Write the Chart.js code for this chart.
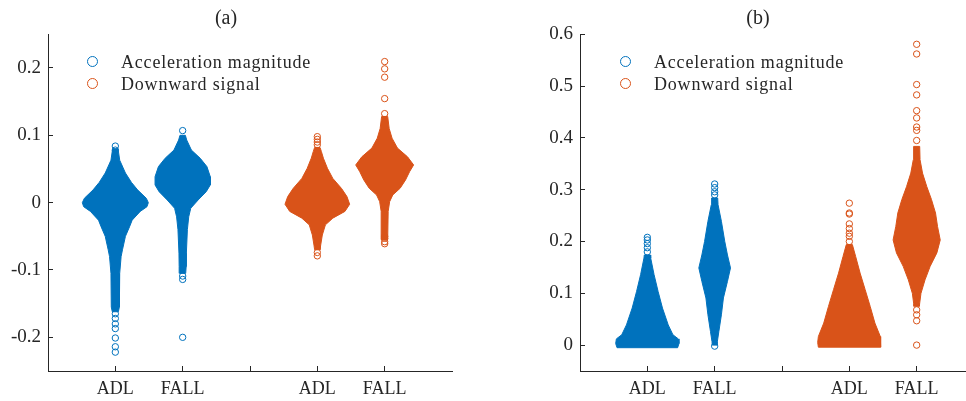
<!DOCTYPE html>
<html lang="en">
<head>
<meta charset="UTF-8">
<title>ADL vs FALL swarm</title>
<script src="https://cdn.jsdelivr.net/npm/chart.js"></script>
<style>
    body { margin: 0; width: 966px; height: 401px; overflow: hidden; background: #fff; position: relative; }
    canvas { position: absolute; top: 0; }
    #chartA { left: 0; }
    #chartB { left: 532px; }
    .legend { position: absolute; font-family: 'Liberation Serif', serif; font-size: 18px; letter-spacing: 0.8px; color: #262626; }
    .legend div { position: relative; height: 22px; line-height: 22px; white-space: nowrap; }
    .legend span.mk { position: absolute; left: -34px; top: 5px; width: 9px; height: 9px; border-radius: 50%; border: 1.2px solid; }
</style>
</head>
<body>
<canvas id="chartA" width="500" height="401"></canvas>
<canvas id="chartB" width="500" height="401"></canvas>

<div class="legend" style="left:121px; top:51px;">
    <div><span class="mk" style="border-color:#0072BD"></span>Acceleration magnitude</div>
    <div><span class="mk" style="border-color:#D95319"></span>Downward signal</div>
</div>
<div class="legend" style="left:654px; top:51px;">
    <div><span class="mk" style="border-color:#0072BD"></span>Acceleration magnitude</div>
    <div><span class="mk" style="border-color:#D95319"></span>Downward signal</div>
</div>

<script>
    // x categories (positions 1..5, slot 3 is the empty gap)
    const tickPos = [1, 2, 3, 4, 5];
    const tickNames = ['ADL', 'FALL', '', 'ADL', 'FALL'];

    const yTicksA = [-0.2, -0.1, 0, 0.1, 0.2];
    const yNamesA = ['-0.2', '-0.1', '0', '0.1', '0.2'];
    const yTicksB = [0, 0.1, 0.2, 0.3, 0.4, 0.5, 0.6];
    const yNamesB = ['0', '0.1', '0.2', '0.3', '0.4', '0.5', '0.6'];

    const blue = '#0072BD';
    const orange = '#D95319';

    // (a) swarm outlines: value levels and half widths (x units), plus single points
    const aAdlAccY = [0.080, 0.063, 0.044, 0.030, 0.019, 0.0065, 0, -0.006, -0.013, -0.026, -0.036, -0.05, -0.07, -0.08, -0.105, -0.155, -0.162];
    const aAdlAccW = [0.04, 0.065, 0.15, 0.24, 0.33, 0.46, 0.49, 0.47, 0.37, 0.25, 0.21, 0.15, 0.106, 0.086, 0.065, 0.06, 0.045];
    const aAdlAccOut = [0.084, 0.078, -0.165, -0.172, -0.18, -0.187, -0.201, -0.214, -0.222];

    const aFallAccY = [0.1, 0.093, 0.078, 0.066, 0.0535, 0.0386, 0.0263, 0.0163, 0.004, -0.0083, -0.021, -0.04, -0.075, -0.095, -0.105];
    const aFallAccW = [0.04, 0.06, 0.13, 0.26, 0.36, 0.41, 0.41, 0.35, 0.23, 0.12, 0.09, 0.07, 0.055, 0.052, 0.045];
    const aFallAccOut = [0.107, -0.109, -0.114, -0.2];

    const aAdlDownY = [0.082, 0.076, 0.066, 0.051, 0.036, 0.021, 0.009, -0.0024, -0.013, -0.023, -0.033, -0.048, -0.063, -0.07];
    const aAdlDownW = [0.04, 0.06, 0.09, 0.15, 0.23, 0.36, 0.44, 0.48, 0.41, 0.23, 0.12, 0.074, 0.05, 0.04];
    const aAdlDownOut = [0.098, 0.094, 0.09, 0.086, -0.074, -0.079];

    const aFallDownY = [0.128, 0.11, 0.0957, 0.081, 0.068, 0.056, 0.046, 0.0337, 0.0214, 0.0114, 0.0015, -0.013, -0.055];
    const aFallDownW = [0.045, 0.067, 0.11, 0.19, 0.34, 0.43, 0.37, 0.31, 0.23, 0.12, 0.074, 0.052, 0.045];
    const aFallDownOut = [0.2095, 0.1987, 0.1863, 0.1545, 0.1322, -0.05, -0.053, -0.058, -0.061];

    // (b)
    const bAdlAccY = [0.174, 0.168, 0.136, 0.1035, 0.0715, 0.039, 0.02, 0.012, 0.003, -0.005];
    const bAdlAccW = [0.045, 0.05, 0.1, 0.16, 0.225, 0.31, 0.38, 0.46, 0.47, 0.45];
    const bAdlAccOut = [0.208, 0.203, 0.196, 0.188, 0.18];

    const bFallAccY = [0.284, 0.271, 0.239, 0.2, 0.174, 0.149, 0.123, 0.091, 0.0585, 0.026, 0.007, 0.0];
    const bFallAccW = [0.045, 0.05, 0.1, 0.15, 0.19, 0.235, 0.19, 0.13, 0.1, 0.062, 0.04, 0.035];
    const bFallAccOut = [0.311, 0.304, 0.296, 0.29, -0.002];

    const bAdlDownY = [0.194, 0.171, 0.139, 0.107, 0.0746, 0.0425, 0.0166, 0.005, -0.004];
    const bAdlDownW = [0.045, 0.094, 0.16, 0.235, 0.31, 0.38, 0.46, 0.47, 0.46];
    const bAdlDownOut = [0.274, 0.255, 0.253, 0.234, 0.225, 0.216, 0.21, 0.2];

    const bFallDownY = [0.3836, 0.358, 0.332, 0.306, 0.281, 0.255, 0.229, 0.203, 0.178, 0.152, 0.126, 0.1, 0.081, 0.075];
    const bFallDownW = [0.045, 0.05, 0.087, 0.15, 0.22, 0.28, 0.31, 0.35, 0.30, 0.2, 0.124, 0.064, 0.045, 0.04];
    const bFallDownOut = [0.5807, 0.562, 0.503, 0.483, 0.4526, 0.4385, 0.421, 0.4145, 0.395, 0.068, 0.0585, 0.047, 0.0];

    // closed outline: right side top->bottom, then left side bottom->top
    function outline(center, ys, ws) {
        const pts = ys.map((y, i) => ({ x: center + ws[i], y: y }));
        for (let i = ys.length - 1; i >= 0; i--) pts.push({ x: center - ws[i], y: ys[i] });
        pts.push(pts[0]);
        return pts;
    }

    function shapeSet(center, ys, ws, color) {
        return {
            type: 'line',
            data: outline(center, ys, ws),
            fill: 'shape',
            backgroundColor: color,
            borderColor: color,
            borderWidth: 1,
            pointRadius: 0,
            tension: 0
        };
    }

    function pointSet(center, vals, color) {
        return {
            type: 'scatter',
            data: vals.map(v => ({ x: center, y: v })),
            pointStyle: 'circle',
            pointRadius: 3.2,
            borderWidth: 1,
            borderColor: color,
            backgroundColor: 'rgba(0,0,0,0)'
        };
    }

    const ink = '#262626';

    function makeChart(el, title, datasets, yMin, yMax, yTicks, yNames) {
        return new Chart(el, {
            type: 'scatter',
            data: { datasets: datasets },
            options: {
                responsive: false,
                animation: false,
                devicePixelRatio: 1,
                layout: { padding: { left: 0, right: 48, top: 0, bottom: 0 } },
                plugins: {
                    legend: { display: false },
                    tooltip: { enabled: false },
                    title: {
                        display: true,
                        text: title,
                        color: ink,
                        font: { family: "'Liberation Serif', serif", size: 20, weight: 'normal', lineHeight: 1.2 },
                        padding: { top: 7, bottom: 3.3 }
                    }
                },
                scales: {
                    x: {
                        type: 'linear',
                        min: 0,
                        max: 6,
                        afterBuildTicks: s => { s.ticks = tickPos.map(v => ({ value: v })); },
                        afterFit: s => { s.height = 30; },
                        ticks: {
                            autoSkip: false,
                            maxRotation: 0,
                            padding: 12,
                            color: ink,
                            font: { family: "'Liberation Serif', serif", size: 18 },
                            callback: v => { const i = tickPos.indexOf(v); return i < 0 ? '' : tickNames[i]; }
                        },
                        grid: { drawOnChartArea: false, drawTicks: true, tickLength: -5, color: ink },
                        border: { display: true, color: ink, width: 1 }
                    },
                    y: {
                        min: yMin,
                        max: yMax,
                        afterBuildTicks: s => { s.ticks = yTicks.map(v => ({ value: v })); },
                        afterFit: s => { s.width = 48; },
                        ticks: {
                            padding: 12,
                            color: ink,
                            font: { family: "'Liberation Serif', serif", size: 19 },
                            callback: v => { const i = yTicks.findIndex(t => Math.abs(t - v) < 1e-9); return i < 0 ? '' : yNames[i]; }
                        },
                        grid: { drawOnChartArea: false, drawTicks: true, tickLength: -5, color: ink },
                        border: { display: true, color: ink, width: 1 }
                    }
                }
            }
        });
    }

    makeChart(document.getElementById('chartA'), '(a)', [
        shapeSet(1, aAdlAccY, aAdlAccW, blue),
        shapeSet(2, aFallAccY, aFallAccW, blue),
        shapeSet(4, aAdlDownY, aAdlDownW, orange),
        shapeSet(5, aFallDownY, aFallDownW, orange),
        pointSet(1, aAdlAccOut, blue),
        pointSet(2, aFallAccOut, blue),
        pointSet(4, aAdlDownOut, orange),
        pointSet(5, aFallDownOut, orange)
    ], -0.25, 0.25, yTicksA, yNamesA);

    makeChart(document.getElementById('chartB'), '(b)', [
        shapeSet(1, bAdlAccY, bAdlAccW, blue),
        shapeSet(2, bFallAccY, bFallAccW, blue),
        shapeSet(4, bAdlDownY, bAdlDownW, orange),
        shapeSet(5, bFallDownY, bFallDownW, orange),
        pointSet(1, bAdlAccOut, blue),
        pointSet(2, bFallAccOut, blue),
        pointSet(4, bAdlDownOut, orange),
        pointSet(5, bFallDownOut, orange)
    ], -0.05, 0.6, yTicksB, yNamesB);
</script>
</body>
</html>
